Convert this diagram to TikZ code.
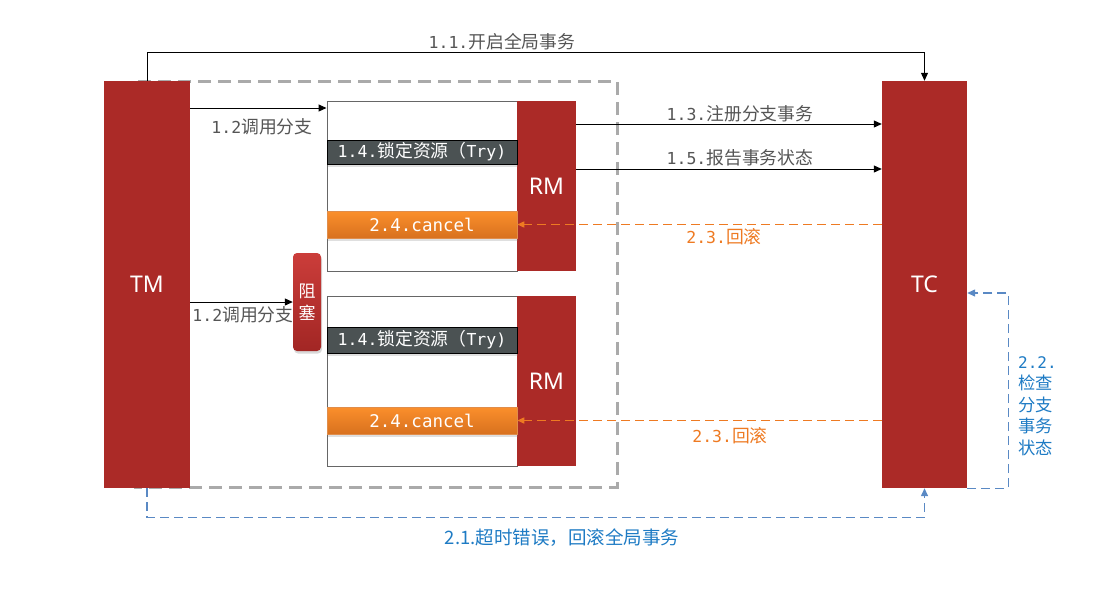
\documentclass[tikz,border=0pt]{standalone}
\usepackage{fontspec}
\setmainfont{DejaVu Sans Mono}
\newfontfamily\cjk[Scale=1.08]{Noto Sans CJK SC}
\newfontfamily\cjkb{Noto Sans CJK SC}
\newfontfamily\lbsans{Noto Sans}
\usetikzlibrary{arrows.meta,shadows}
\definecolor{myred}{HTML}{AB2A27}
\definecolor{blkT}{HTML}{CB3D3A}
\definecolor{blkB}{HTML}{A22624}
\definecolor{lblgray}{HTML}{555555}
\definecolor{darkbox}{HTML}{4B5253}
\definecolor{myorange}{HTML}{EE7A22}
\definecolor{orangeT}{HTML}{FB8F2C}
\definecolor{orangeB}{HTML}{D8711E}
\definecolor{bluetxt}{HTML}{1E7BC4}
\definecolor{blueline}{HTML}{5A89C4}
\definecolor{dashgray}{HTML}{AAAAAA}
\tikzset{
  redbar/.style={fill=myred, draw=none, text=white, font=\lbsans\fontsize{23}{26}\selectfont, inner sep=0pt},
  branchbox/.style={draw=black!60, line width=1pt, fill=white, inner sep=0pt},
  trybox/.style={draw=black, line width=0.9pt, fill=darkbox, text=white, inner sep=0pt, minimum width=190pt, font=\fontsize{16.5}{18}\selectfont,
     drop shadow={opacity=0.25, shadow xshift=1pt, shadow yshift=-2.5pt}},
  cancelbox/.style={draw=orangeB!80, line width=0.5pt, top color=orangeT, bottom color=orangeB, text=white, inner sep=0pt, minimum width=190pt, font=\fontsize{17.5}{18}\selectfont,
     drop shadow={opacity=0.25, shadow xshift=1pt, shadow yshift=-2.5pt}},
  blockbox/.style={rounded corners=4pt, top color=blkT, bottom color=blkB, draw=none, text=white, inner sep=0pt,
     minimum width=28pt, minimum height=98pt, font=\cjkb\fontsize{17}{22}\selectfont, align=center,
     drop shadow={opacity=0.3, shadow xshift=1pt, shadow yshift=-2.5pt}},
  arr/.style={-{Triangle[length=8pt,width=7pt]}, line width=1pt, black},
  oarr/.style={-{Triangle[length=7pt,width=6pt]}, line width=1.4pt, myorange, dash pattern=on 9pt off 5pt},
  barr/.style={-{Triangle[length=8pt,width=7pt]}, line width=1.4pt, blueline, dash pattern=on 9pt off 5pt},
  glabel/.style={text=lblgray, font=\fontsize{16.5}{18}\selectfont, inner sep=1pt},
  olabel/.style={text=myorange, font=\fontsize{16.5}{18}\selectfont, inner sep=1pt},
  blabel/.style={text=bluetxt, font=\fontsize{16}{21.5}\selectfont, inner sep=1pt},
}
\begin{document}
\begin{tikzpicture}[x=1pt,y=-1pt]
\useasboundingbox (0,0) rectangle (1118,600);
% outer gray dashed frame
\draw[dashgray, line width=3pt, dash pattern=on 13pt off 7pt] (135,81) rectangle (617,487);
% main bars
\node[redbar, minimum width=86pt, minimum height=407pt] (TM) at (147,284.5) {TM};
\node[redbar, minimum width=85pt, minimum height=407pt] (TC) at (924.5,284.5) {TC};
% branch 1
\node[branchbox, minimum width=190pt, minimum height=170pt] (box1) at (422,186) {};
\node[redbar, minimum width=59pt, minimum height=170pt] (RM1) at (546.5,186) {RM};
\node[trybox, minimum height=24pt] (try1) at (422,152) {1.4.{\cjk 锁定资源（}Try)};
\node[cancelbox, minimum height=27pt] (can1) at (422,224.5) {2.4.cancel};
% branch 2
\node[branchbox, minimum width=190pt, minimum height=170pt] (box2) at (422,381) {};
\node[redbar, minimum width=59pt, minimum height=170pt] (RM2) at (546.5,381) {RM};
\node[trybox, minimum height=26pt] (try2) at (422,340) {1.4.{\cjk 锁定资源（}Try)};
\node[cancelbox, minimum height=27pt] (can2) at (422,420.5) {2.4.cancel};
% blocking
\node[blockbox] (blk) at (307,302) {阻\\塞};
% 1.1
\draw[arr] (TM.north) -- ++(0,-28) -| (TC.north);
\node[glabel] (l11) at (502,42) {1.1.{\cjk 开启全局事务}};
% 1.2
\draw[arr] (TM.east |- 0,108) -- (box1.west |- 0,108);
\node[glabel] (l12a) at (262,127) {1.2{\cjk 调用分支}};
\draw[arr] (TM.east |- blk.west) -- (blk.west);
\node[glabel] (l12b) at (243,315) {1.2{\cjk 调用分支}};
% 1.3 / 1.5
\draw[arr] (RM1.east |- 0,124) -- (TC.west |- 0,124);
\node[glabel] (l13) at (740,114) {1.3.{\cjk 注册分支事务}};
\draw[arr] (RM1.east |- 0,169) -- (TC.west |- 0,169);
\node[glabel] (l15) at (740,158) {1.5.{\cjk 报告事务状态}};
% 2.3 rollback
\draw[oarr] (TC.west |- can1.east) -- (can1.east);
\node[olabel] (l23a) at (724,237) {2.3.{\cjk 回滚}};
\draw[oarr] (TC.west |- can2.east) -- (can2.east);
\node[olabel] (l23b) at (730,436) {2.3.{\cjk 回滚}};
% 2.2
\draw[barr] (TC.south east) -- ++(41,0) |- (TC.east |- 0,293);
\node[blabel, align=left, anchor=north west] (l22) at (1017,355) {2.2.\\{\cjk 检查}\\{\cjk 分支}\\{\cjk 事务}\\{\cjk 状态}};
% 2.1
\draw[barr] (TM.south) -- ++(0,29) -| (TC.south);
\node[text=bluetxt, font=\cjkb\fontsize{18.5}{20}\selectfont] (l21) at (562,538) {2.1.超时错误，回滚全局事务};
\end{tikzpicture}
\end{document}
